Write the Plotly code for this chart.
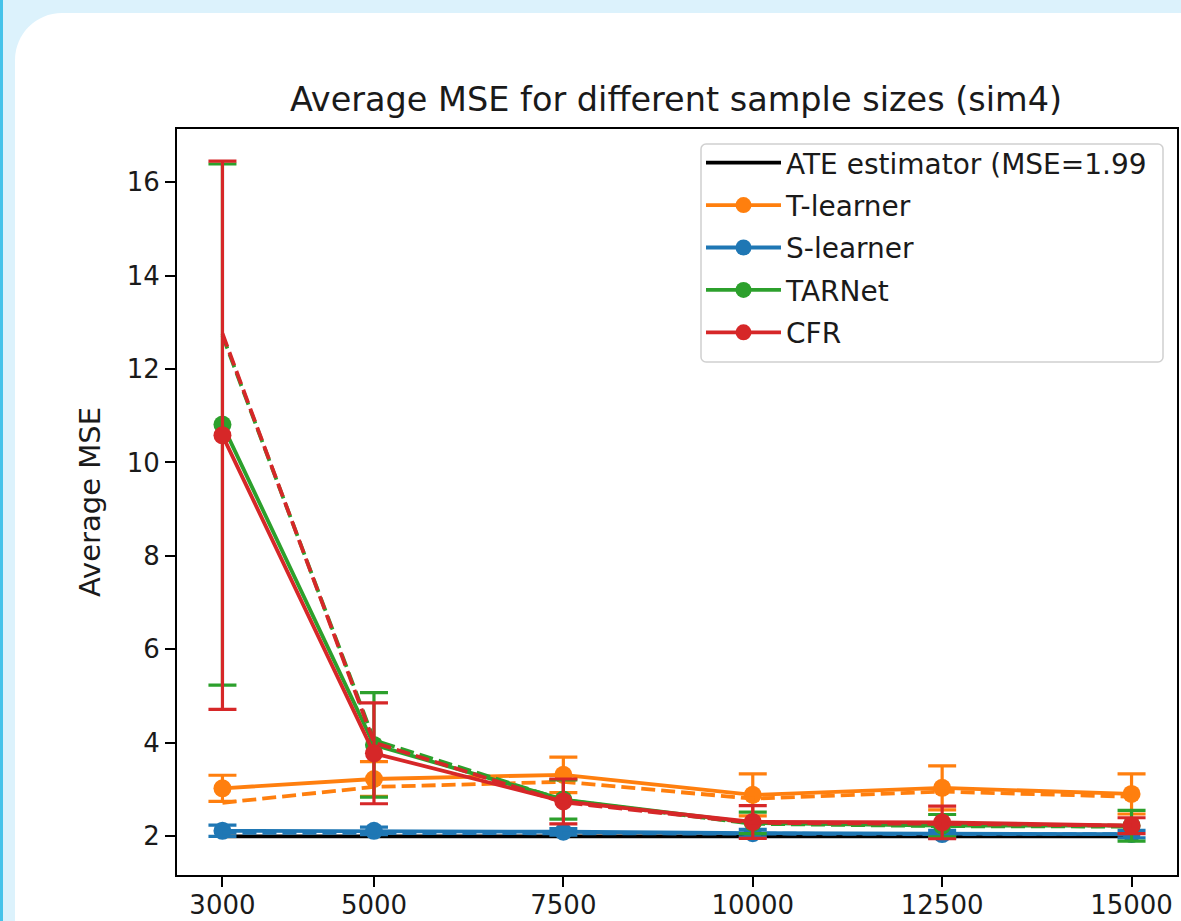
import plotly.graph_objects as go

# ---------------- data ----------------
sample_sizes = [3000, 5000, 7500, 10000, 12500, 15000]
x_ticks = [3000, 5000, 7500, 10000, 12500, 15000]
y_ticks = [2, 4, 6, 8, 10, 12, 14, 16]

ate_label = "ATE estimator (MSE=1.99"
ate_values = [1.99, 1.99, 1.99, 1.99, 1.99, 1.99]

t_mean = [3.02, 3.22, 3.31, 2.88, 3.03, 2.90]
t_err = [0.28, 0.37, 0.38, 0.45, 0.47, 0.43]
t_dash = [2.71, 3.05, 3.16, 2.80, 2.95, 2.84]

s_mean = [2.11, 2.11, 2.09, 2.06, 2.04, 2.04]
s_err = [0.12, 0.08, 0.07, 0.08, 0.08, 0.08]
s_dash = [2.07, 2.07, 2.06, 2.05, 2.04, 2.04]

tar_mean = [10.81, 3.95, 2.78, 2.28, 2.22, 2.22]
tar_err = [5.58, 1.12, 0.42, 0.23, 0.24, 0.33]
tar_dash = [12.72, 4.05, 2.77, 2.26, 2.21, 2.20]

cfr_mean = [10.58, 3.77, 2.74, 2.30, 2.29, 2.22]
cfr_err = [5.87, 1.08, 0.48, 0.35, 0.35, 0.17]
cfr_dash = [12.76, 4.00, 2.72, 2.28, 2.26, 2.22]

models = [
    ("T-learner", "#ff7f0e", t_mean, t_err, t_dash),
    ("S-learner", "#1f77b4", s_mean, s_err, s_dash),
    ("TARNet", "#2ca02c", tar_mean, tar_err, tar_dash),
    ("CFR", "#d62728", cfr_mean, cfr_err, cfr_dash),
]

FONT = "DejaVu Sans"
TXT = "#1a1a1a"
W, H = 1181, 921
L, R, T, B = 177, 4, 129, 46
PW, PH = W - L - R, H - T - B


def px(xp):
    return (xp - L) / PW


def py(yp):
    return (H - B - yp) / PH


def rounded_rect(xa, ya, xb, yb, rad):
    k = 0.5523 * rad
    return (
        f"M {px(xa + rad)},{py(ya)} L {px(xb - rad)},{py(ya)} "
        f"C {px(xb - rad + k)},{py(ya)} {px(xb)},{py(ya + rad - k)} {px(xb)},{py(ya + rad)} "
        f"L {px(xb)},{py(yb - rad)} "
        f"C {px(xb)},{py(yb - rad + k)} {px(xb - rad + k)},{py(yb)} {px(xb - rad)},{py(yb)} "
        f"L {px(xa + rad)},{py(yb)} "
        f"C {px(xa + rad - k)},{py(yb)} {px(xa)},{py(yb - rad + k)} {px(xa)},{py(yb - rad)} "
        f"L {px(xa)},{py(ya + rad)} "
        f"C {px(xa)},{py(ya + rad - k)} {px(xa + rad - k)},{py(ya)} {px(xa + rad)},{py(ya)} Z"
    )


fig = go.Figure()

fig.add_trace(go.Scatter(
    x=sample_sizes, y=ate_values, mode="lines", name=ate_label,
    line=dict(color="black", width=3.8), legendgroup="ate",
))

for name, color, mean, err, dash in models:
    fig.add_trace(go.Scatter(
        x=sample_sizes, y=mean, mode="lines+markers", name=name,
        legendgroup=name,
        line=dict(color=color, width=3.8),
        marker=dict(color=color, size=18),
        error_y=dict(type="data", array=err, visible=True, color=color,
                     thickness=3.2, width=14),
    ))
    fig.add_trace(go.Scatter(
        x=sample_sizes, y=dash, mode="lines", name=name + " (dashed)",
        legendgroup=name, showlegend=False,
        line=dict(color=color, width=3.8, dash="14px,6px"),
    ))

# background card
r = 47
x0, y0 = 15, 13
x1, y1 = 1230, 980
k = 0.5523 * r
card = (
    f"M {px(x0)},{py(y1)} "
    f"L {px(x0)},{py(y0 + r)} "
    f"C {px(x0)},{py(y0 + r - k)} {px(x0 + r - k)},{py(y0)} {px(x0 + r)},{py(y0)} "
    f"L {px(x1)},{py(y0)} L {px(x1)},{py(y1)} Z"
)
shapes = [
    dict(type="rect", xref="paper", yref="paper", x0=px(0), x1=px(3),
         y0=py(H + 20), y1=py(-20), line=dict(width=0), fillcolor="#45c3ea",
         layer="below"),
    dict(type="path", xref="paper", yref="paper", path=card,
         line=dict(width=0), fillcolor="white", layer="below"),
    # legend frame
    dict(type="path", xref="paper", yref="paper",
         path=rounded_rect(701, 144, 1163, 362, 5),
         line=dict(width=1.5, color="#d0d0d0"),
         fillcolor="rgba(255,255,255,0.8)", layer="above"),
]

fig.update_layout(
    width=W, height=H,
    margin=dict(l=L, r=R, t=T, b=B, pad=0, autoexpand=False),
    paper_bgcolor="#dcf2fc",
    plot_bgcolor="white",
    shapes=shapes,
    font=dict(family=FONT, size=26, color=TXT),
    title=dict(text="Average MSE for different sample sizes (sim4)",
               x=px(676), xref="paper", xanchor="center",
               y=1 - 99 / H, yref="container", yanchor="middle",
               font=dict(family=FONT, size=33.5, color=TXT)),
    showlegend=True,
    legend=dict(x=px(701), y=py(138), xanchor="left", yanchor="top",
                bgcolor="rgba(0,0,0,0)", borderwidth=0,
                font=dict(family=FONT, size=28, color=TXT),
                traceorder="grouped", tracegroupgap=3, itemwidth=75),
    xaxis=dict(range=[2400, 15600], tickvals=x_ticks,
               ticktext=[str(v) for v in x_ticks], automargin=False,
               showgrid=False, zeroline=False, showline=True, mirror=True,
               linecolor="black", linewidth=1.8, ticks="outside", ticklen=10,
               tickwidth=1.6, tickcolor="black", ticklabelstandoff=-4,
               tickfont=dict(family=FONT, size=26, color=TXT)),
    yaxis=dict(range=[1.164, 17.14], tickvals=y_ticks, automargin=False,
               showgrid=False, zeroline=False, showline=True, mirror=True,
               linecolor="black", linewidth=1.8, ticks="outside", ticklen=10,
               tickwidth=1.6, tickcolor="black",
               tickfont=dict(family=FONT, size=26, color=TXT),
               title=dict(text="Average MSE", standoff=18,
                          font=dict(family=FONT, size=29, color=TXT))),
)

fig.write_html("out.html")
